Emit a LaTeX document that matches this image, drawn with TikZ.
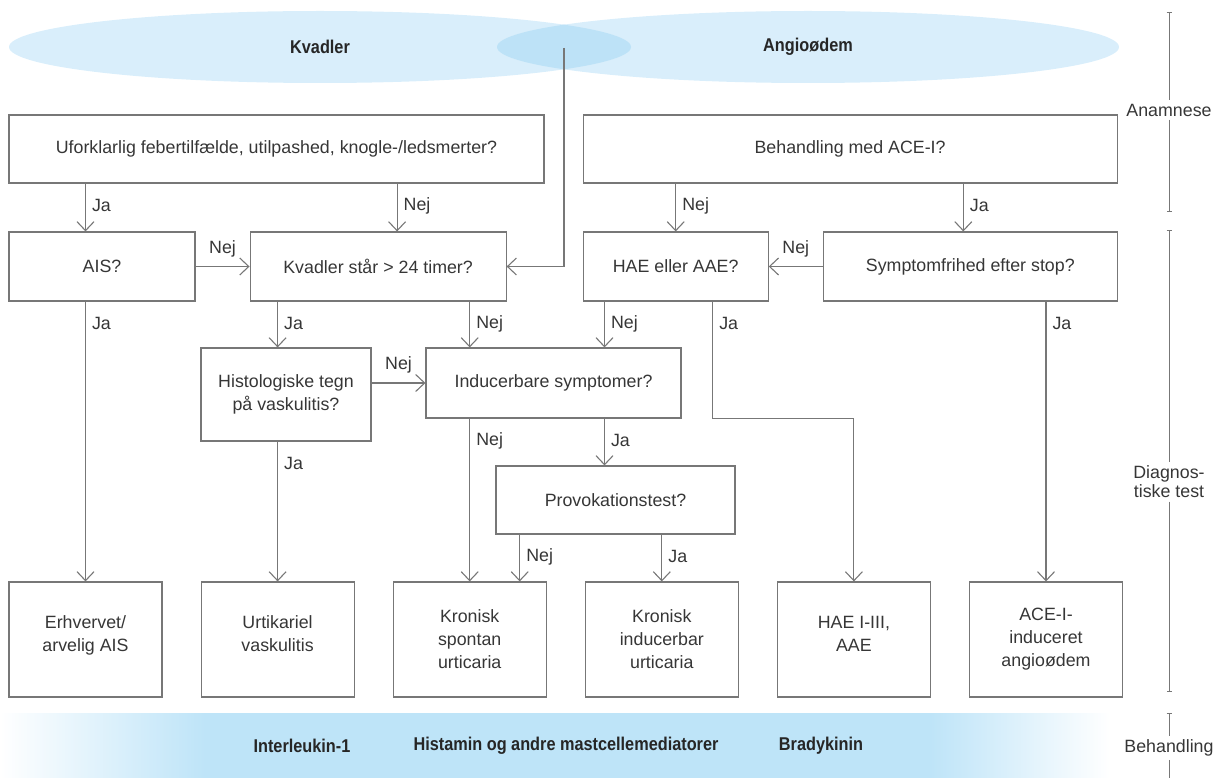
\documentclass[tikz,border=0pt]{standalone}
\usepackage{fontspec}
\setmainfont{Liberation Sans}
\newfontfamily\condfont[FakeStretch=0.88]{Liberation Sans}
\usetikzlibrary{arrows.meta, positioning, shapes.geometric}
\definecolor{linegray}{HTML}{777777}
\definecolor{textgray}{HTML}{363636}
\definecolor{ellblue}{HTML}{D9EEFB}
\definecolor{lensblue}{HTML}{BDE2F7}
\definecolor{bandblue}{HTML}{BEE4F8}

\begin{document}
\begin{tikzpicture}[
    x=1pt, y=-1pt,
    font=\fontsize{17.8}{23}\selectfont,
    text=textgray,
    box/.style={draw=linegray, line width=1.1pt, align=center, inner sep=2pt},
    qbox/.style={box, minimum height=68pt},
    endbox/.style={box, minimum width=153pt, minimum height=115pt},
    ell/.style={ellipse, fill=ellblue, minimum width=622pt, minimum height=72pt, font=\condfont\bfseries\fontsize{18.5}{20}\selectfont, text=black!85},
    band/.style={font=\condfont\bfseries\fontsize{18.5}{20}\selectfont, text=black!85},
    arrow/.style={-{Straight Barb[length=9pt, width=17pt]}, draw=linegray, line width=1.1pt},
    vlbl/.style={at start, anchor=west, xshift=6pt, yshift=-22pt, inner sep=0pt},
    hlbl/.style={midway, anchor=south, yshift=9pt, inner sep=0pt},
    phase/.style={draw=linegray, line width=0.8pt}
]
\useasboundingbox (0,0) rectangle (1223,778);

\node[ell] (kvadell) at (320,47) {Kvadler};
\node[ell] (angioell) at (808,47) {Angioødem};
\begin{scope}
  \clip (320,47) ellipse [x radius=311pt, y radius=36pt];
  \fill[lensblue] (808,47) ellipse [x radius=311pt, y radius=36pt];
\end{scope}
\coordinate (lens) at (564,48);

\node[qbox, minimum width=535pt] (feber) at (276.5,149) {Uforklarlig febertilfælde, utilpashed, knogle-/ledsmerter?};
\node[qbox, minimum width=534pt, right=38pt of feber] (acei) {Behandling med ACE-I?};

\node[qbox, minimum width=186pt, minimum height=69pt] (ais) at (102,266.5) {AIS?};
\node[qbox, minimum width=256pt, minimum height=69pt, right=54pt of ais] (kvad) {Kvadler står > 24 timer?};
\node[qbox, minimum width=185pt, minimum height=69pt, right=76pt of kvad] (hae) {HAE eller AAE?};
\node[qbox, minimum width=294pt, minimum height=69pt, right=54pt of hae] (sympt) {Symptomfrihed efter stop?};

\node[box, minimum width=170pt, minimum height=93pt] (histo) at (286,394.5) {Histologiske tegn\\på vaskulitis?};
\node[qbox, minimum width=255pt, minimum height=70pt] (induc) at (553.5,383) {Inducerbare symptomer?};
\node[qbox, minimum width=239pt] (provo) at (615.5,500) {Provokationstest?};

\node[endbox] (erhv) at (85.5,639.5) {Erhvervet/\\arvelig AIS\\[-12pt]};
\node[endbox, right=38pt of erhv] (urt) {Urtikariel\\vaskulitis\\[-12pt]};
\node[endbox, right=38pt of urt] (spont) {Kronisk\\spontan\\urticaria};
\node[endbox, right=38pt of spont] (indu) {Kronisk\\inducerbar\\urticaria};
\node[endbox, right=38pt of indu] (haeres) {HAE I-III,\\AAE\\[-12pt]};
\node[endbox, right=38pt of haeres] (ace) {ACE-I-\\induceret\\angioødem};

\draw[arrow] (feber.south -| erhv) -- node[vlbl] {Ja} (ais.north -| erhv);
\draw[arrow] ([xshift=19pt]kvad.north |- feber.south) -- node[vlbl] {Nej} ([xshift=19pt]kvad.north);
\draw[arrow] (hae.north |- acei.south) -- node[vlbl] {Nej} (hae.north);
\draw[arrow] ([xshift=-7pt]sympt.north |- acei.south) -- node[vlbl] {Ja} ([xshift=-7pt]sympt.north);
\draw[arrow] (ais.east) -- node[hlbl] {Nej} (kvad.west);
\draw[arrow] (lens) |- (kvad.east);
\draw[arrow] (sympt.west) -- node[hlbl] {Nej} (hae.east);
\draw[arrow] (kvad.south -| urt) -- node[vlbl] {Ja} (histo.north -| urt);
\draw[arrow] (kvad.south -| spont) -- node[vlbl] {Nej} (induc.north -| spont);
\draw[arrow] ([xshift=51pt]induc.north |- hae.south) -- node[vlbl] {Nej} ([xshift=51pt]induc.north);
\draw[arrow] (histo.east |- induc.west) -- node[hlbl] {Nej} (induc.west);
\draw[arrow] (ais.south -| erhv) -- node[vlbl] {Ja} (erhv.north);
\draw[arrow] (histo.south -| urt) -- node[vlbl] {Ja} (urt.north);
\draw[arrow] (induc.south -| spont) -- node[vlbl] {Nej} (spont.north);
\draw[arrow] ([xshift=51pt]induc.south) -- node[vlbl] {Ja} ([xshift=51pt]induc.south |- provo.north);
\draw[arrow] ([xshift=50pt]spont.north |- provo.south) -- node[vlbl] {Nej} ([xshift=50pt]spont.north);
\draw[arrow] (provo.south -| indu) -- node[vlbl] {Ja} (indu.north);
\draw[arrow] ([xshift=37pt]hae.south) |- node[vlbl] {Ja} (induc.south -| haeres) -- (haeres.north);
\draw[arrow] (sympt.south -| ace) -- node[vlbl] {Ja} (ace.north);

\shade[left color=white, right color=bandblue] (0,713) rectangle (205,778);
\fill[bandblue] (205,713) rectangle (930,778);
\shade[left color=bandblue, right color=white] (930,713) rectangle (1110,778);
\node[band] (il) at (302,746) {Interleukin-1};
\node[band] (hist) at (566,746) {Histamin og andre mastcellemediatorer};
\node[band] (brady) at (821,746) {Bradykinin};

\node (anam) at (1169,110) {Anamnese};
\node[align=center, font=\fontsize{17.8}{19}\selectfont] (diag) at (1169,482) {Diagnos-\\tiske test};
\node (behand) at (1169,748) {Behandling};
\coordinate (anamtop) at (1169,12);
\coordinate (anambot) at (1169,212);
\coordinate (diagtop) at (1169,230);
\coordinate (diagbot) at (1169,692);
\coordinate (behandtop) at (1169,713);
\coordinate (behandbot) at (1169,778);
\draw[phase, {Bar[width=5pt]}-] (anamtop) -- (anam.north);
\draw[phase, -{Bar[width=5pt]}] (anam.south) -- (anambot);
\draw[phase, {Bar[width=5pt]}-] (diagtop) -- (diag.north);
\draw[phase, -{Bar[width=5pt]}] (diag.south) -- (diagbot);
\draw[phase, {Bar[width=5pt]}-] (behandtop) -- (behand.north);
\draw[phase] (behand.south) -- (behandbot);
\end{tikzpicture}
\end{document}
